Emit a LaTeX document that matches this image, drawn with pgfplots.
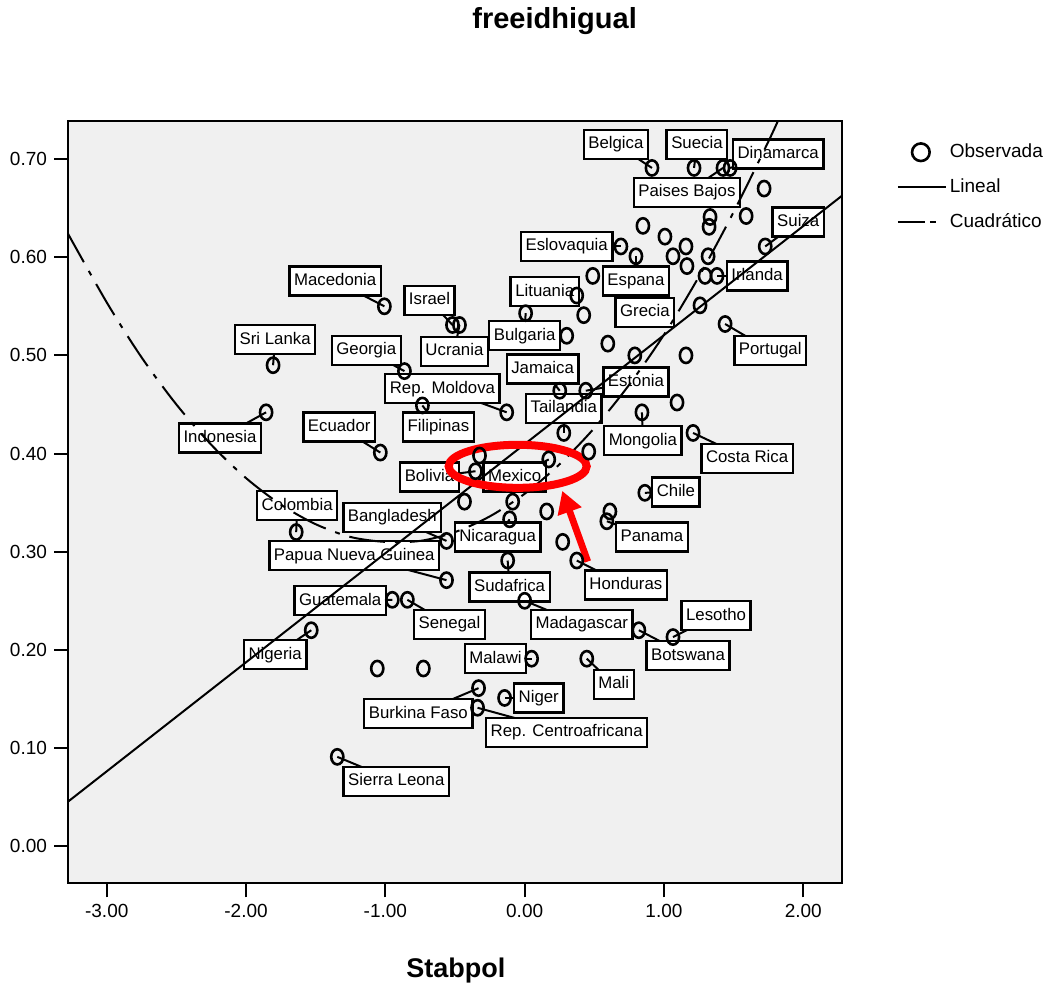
\documentclass[border=0pt]{standalone}
\usepackage{fontspec}
\setmainfont{Liberation Sans}
\usepackage{pgfplots}
\pgfplotsset{compat=1.18}
\usetikzlibrary{arrows.meta}
\definecolor{plotbg}{HTML}{F0F0F0}
\tikzset{
  lbl/.style={draw, line width=1.2pt, fill=white, inner xsep=2.3pt, inner ysep=3.2pt,
    text height=6.3pt, text depth=1.8pt, font=\fontsize{8.4}{10}\selectfont},
  ldr/.style={line width=1pt},
}

% observed points (Stabpol, freeidhigual)
\pgfplotstableread{
x y
-1.007 0.550
-0.518 0.531
-0.468 0.531
-1.806 0.490
-0.863 0.484
-0.734 0.449
-1.856 0.442
-1.036 0.401
-1.640 0.320
-0.561 0.311
-0.561 0.271
-0.950 0.251
-0.842 0.251
-1.532 0.220
-1.058 0.181
-0.727 0.181
-1.345 0.091
-0.129 0.442
0.281 0.421
0.460 0.402
-0.324 0.398
0.173 0.394
-0.353 0.382
-0.432 0.351
-0.086 0.351
0.158 0.341
-0.108 0.333
0.273 0.310
-0.122 0.291
0.374 0.291
0.612 0.341
0.590 0.331
0.863 0.360
0.000 0.250
0.820 0.220
1.065 0.213
0.050 0.191
0.446 0.191
-0.331 0.161
-0.144 0.151
-0.338 0.141
0.914 0.691
1.216 0.691
1.424 0.691
1.475 0.691
1.719 0.670
1.331 0.641
1.590 0.642
1.324 0.631
0.849 0.632
1.007 0.621
1.158 0.611
0.691 0.611
0.799 0.601
1.065 0.601
1.317 0.601
1.165 0.591
1.727 0.611
0.489 0.581
1.295 0.581
1.381 0.581
0.374 0.561
0.424 0.541
0.007 0.543
0.302 0.520
1.259 0.551
1.439 0.532
0.597 0.512
0.791 0.500
1.158 0.500
0.252 0.464
0.439 0.464
0.842 0.442
1.094 0.452
1.209 0.421
}\obs

% fitted curves
\pgfplotstableread{
x y
-3.29 0.044
2.29 0.664
}\lineal
\pgfplotstableread{
x y
-3.29 0.627
-3.00 0.554
-2.75 0.498
-2.50 0.450
-2.25 0.409
-2.00 0.375
-1.75 0.348
-1.50 0.328
-1.25 0.315
-1.00 0.310
-0.75 0.311
-0.50 0.320
-0.25 0.336
0.00 0.359
0.25 0.389
0.50 0.426
0.75 0.470
1.00 0.521
1.25 0.580
1.50 0.646
1.75 0.718
1.85 0.749
}\cuad

\begin{document}
\begin{tikzpicture}
\begin{axis}[
  name=ax,
  width=387pt, height=381pt, scale only axis,
  xmin=-3.278, xmax=2.280, ymin=-0.0378, ymax=0.7388,
  axis background/.style={fill=plotbg},
  axis line style={line width=1pt},
  tick align=outside, major tick length=7pt,
  tick style={line width=1pt, black},
  xtick pos=bottom, ytick pos=left,
  xtick={-3,-2,-1,0,1,2},
  ytick={0,0.1,0.2,0.3,0.4,0.5,0.6,0.7},
  /pgf/number format/.cd, fixed, fixed zerofill, precision=2, assume math mode=true,
  /pgfplots/.cd,
  ticklabel style={font=\fontsize{9.5}{11}\selectfont},
  title={freeidhigual},
  title style={at={(axis description cs:0.6285,1.106)}, anchor=base,
    font=\bfseries\fontsize{14.5}{17}\selectfont},
  xlabel={Stabpol},
  xlabel style={at={(axis description cs:0.501,-0.1234)}, anchor=base,
    font=\bfseries\fontsize{13.5}{16}\selectfont},
  legend style={draw=none, fill=none, at={(axis description cs:1.07,0.9745)},
    anchor=north west, font=\fontsize{9.5}{11}\selectfont,
    row sep=6pt, inner sep=0pt, nodes={inner sep=1.5pt}},
  legend cell align=left,
]
% leader lines from labels to points
\draw[ldr] (axis cs:0.655,0.715) -- (axis cs:0.914,0.691);
\draw[ldr] (axis cs:1.237,0.715) -- (axis cs:1.216,0.691);
\draw[ldr] (axis cs:1.820,0.705) -- (axis cs:1.475,0.691);
\draw[ldr] (axis cs:1.165,0.666) -- (axis cs:1.424,0.691);
\draw[ldr] (axis cs:1.964,0.636) -- (axis cs:1.727,0.611);
\draw[ldr] (axis cs:0.302,0.611) -- (axis cs:0.691,0.611);
\draw[ldr] (axis cs:-1.360,0.576) -- (axis cs:-1.007,0.550);
\draw[ldr] (axis cs:-0.683,0.556) -- (axis cs:-0.518,0.531);
\draw[ldr] (axis cs:0.144,0.565) -- (axis cs:0.374,0.561);
\draw[ldr] (axis cs:0.799,0.576) -- (axis cs:0.799,0.601);
\draw[ldr] (axis cs:1.669,0.581) -- (axis cs:1.381,0.581);
\draw[ldr] (axis cs:0.000,0.520) -- (axis cs:0.007,0.543);
\draw[ldr] (axis cs:-0.504,0.504) -- (axis cs:-0.468,0.531);
\draw[ldr] (axis cs:-1.791,0.516) -- (axis cs:-1.806,0.490);
\draw[ldr] (axis cs:-1.137,0.505) -- (axis cs:-0.863,0.484);
\draw[ldr] (axis cs:1.763,0.505) -- (axis cs:1.439,0.532);
\draw[ldr] (axis cs:0.129,0.486) -- (axis cs:0.252,0.464);
\draw[ldr] (axis cs:-0.590,0.466) -- (axis cs:-0.129,0.442);
\draw[ldr] (axis cs:0.799,0.473) -- (axis cs:0.439,0.464);
\draw[ldr] (axis cs:0.281,0.446) -- (axis cs:0.281,0.421);
\draw[ldr] (axis cs:-2.187,0.416) -- (axis cs:-1.856,0.442);
\draw[ldr] (axis cs:-1.331,0.427) -- (axis cs:-1.036,0.401);
\draw[ldr] (axis cs:-0.619,0.427) -- (axis cs:-0.734,0.449);
\draw[ldr] (axis cs:0.849,0.413) -- (axis cs:0.842,0.442);
\draw[ldr] (axis cs:1.597,0.395) -- (axis cs:1.209,0.421);
\draw[ldr] (axis cs:-0.683,0.376) -- (axis cs:-0.353,0.382);
\draw[ldr] (axis cs:-0.072,0.376) -- (axis cs:0.173,0.394);
\draw[ldr] (axis cs:1.086,0.361) -- (axis cs:0.863,0.360);
\draw[ldr] (axis cs:-1.633,0.347) -- (axis cs:-1.640,0.320);
\draw[ldr] (axis cs:-0.950,0.335) -- (axis cs:-0.561,0.311);
\draw[ldr] (axis cs:-0.194,0.315) -- (axis cs:-0.108,0.333);
\draw[ldr] (axis cs:0.914,0.315) -- (axis cs:0.590,0.331);
\draw[ldr] (axis cs:-1.223,0.296) -- (axis cs:-0.561,0.271);
\draw[ldr] (axis cs:-0.108,0.264) -- (axis cs:-0.122,0.291);
\draw[ldr] (axis cs:0.727,0.266) -- (axis cs:0.374,0.291);
\draw[ldr] (axis cs:-1.324,0.250) -- (axis cs:-0.950,0.251);
\draw[ldr] (axis cs:1.374,0.235) -- (axis cs:1.065,0.213);
\draw[ldr] (axis cs:-0.540,0.226) -- (axis cs:-0.842,0.251);
\draw[ldr] (axis cs:0.410,0.226) -- (axis cs:0.000,0.250);
\draw[ldr] (axis cs:-1.791,0.195) -- (axis cs:-1.532,0.220);
\draw[ldr] (axis cs:1.173,0.194) -- (axis cs:0.820,0.220);
\draw[ldr] (axis cs:-0.209,0.191) -- (axis cs:0.050,0.191);
\draw[ldr] (axis cs:0.640,0.165) -- (axis cs:0.446,0.191);
\draw[ldr] (axis cs:0.101,0.151) -- (axis cs:-0.144,0.151);
\draw[ldr] (axis cs:-0.763,0.135) -- (axis cs:-0.331,0.161);
\draw[ldr] (axis cs:0.302,0.116) -- (axis cs:-0.338,0.141);
\draw[ldr] (axis cs:-0.921,0.066) -- (axis cs:-1.345,0.091);
% label boxes
\node[lbl] at (axis cs:0.655,0.715) {Belgica};
\node[lbl] at (axis cs:1.237,0.715) {Suecia};
\node[lbl] at (axis cs:1.820,0.705) {Dinamarca};
\node[lbl] at (axis cs:1.165,0.666) {Paises Bajos};
\node[lbl] at (axis cs:1.964,0.636) {Suiza};
\node[lbl] at (axis cs:0.302,0.611) {Eslovaquia};
\node[lbl] at (axis cs:-1.360,0.576) {Macedonia};
\node[lbl] at (axis cs:-0.683,0.556) {Israel};
\node[lbl] at (axis cs:0.144,0.565) {Lituania};
\node[lbl] at (axis cs:0.799,0.576) {Espana};
\node[lbl] at (axis cs:1.669,0.581) {Irlanda};
\node[lbl] at (axis cs:0.863,0.544) {Grecia};
\node[lbl] at (axis cs:0.000,0.520) {Bulgaria};
\node[lbl] at (axis cs:-0.504,0.504) {Ucrania};
\node[lbl] at (axis cs:-1.791,0.516) {Sri Lanka};
\node[lbl] at (axis cs:-1.137,0.505) {Georgia};
\node[lbl] at (axis cs:1.763,0.505) {Portugal};
\node[lbl] at (axis cs:0.129,0.486) {Jamaica};
\node[lbl] at (axis cs:-0.590,0.466) {Rep. Moldova};
\node[lbl] at (axis cs:0.799,0.473) {Estonia};
\node[lbl] at (axis cs:0.281,0.446) {Tailandia};
\node[lbl] at (axis cs:-2.187,0.416) {Indonesia};
\node[lbl] at (axis cs:-1.331,0.427) {Ecuador};
\node[lbl] at (axis cs:-0.619,0.427) {Filipinas};
\node[lbl] at (axis cs:0.849,0.413) {Mongolia};
\node[lbl] at (axis cs:1.597,0.395) {Costa Rica};
\node[lbl] at (axis cs:-0.683,0.376) {Bolivia};
\node[lbl] at (axis cs:-0.072,0.376) {Mexico};
\node[lbl] at (axis cs:1.086,0.361) {Chile};
\node[lbl] at (axis cs:-1.633,0.347) {Colombia};
\node[lbl] at (axis cs:-0.950,0.335) {Bangladesh};
\node[lbl] at (axis cs:-0.194,0.315) {Nicaragua};
\node[lbl] at (axis cs:0.914,0.315) {Panama};
\node[lbl] at (axis cs:-1.223,0.296) {Papua Nueva Guinea};
\node[lbl] at (axis cs:-0.108,0.264) {Sudafrica};
\node[lbl] at (axis cs:0.727,0.266) {Honduras};
\node[lbl] at (axis cs:-1.324,0.250) {Guatemala};
\node[lbl] at (axis cs:1.374,0.235) {Lesotho};
\node[lbl] at (axis cs:-0.540,0.226) {Senegal};
\node[lbl] at (axis cs:0.410,0.226) {Madagascar};
\node[lbl] at (axis cs:-1.791,0.195) {Nigeria};
\node[lbl] at (axis cs:1.173,0.194) {Botswana};
\node[lbl] at (axis cs:-0.209,0.191) {Malawi};
\node[lbl] at (axis cs:0.640,0.165) {Mali};
\node[lbl] at (axis cs:0.101,0.151) {Niger};
\node[lbl] at (axis cs:-0.763,0.135) {Burkina Faso};
\node[lbl] at (axis cs:0.302,0.116) {Rep. Centroafricana};
\node[lbl] at (axis cs:-0.921,0.066) {Sierra Leona};

\addplot[only marks, mark=o, mark size=3.8pt,
  mark options={line width=1.3pt, xscale=0.8},
  legend image code/.code={\draw[line width=1.3pt] (11.5pt,0pt) circle (4.4pt);}]
  table {\obs};
\addlegendentry{Observada}
\addplot[line width=1pt, no marks,
  legend image code/.code={\draw[line width=1pt] (0pt,0pt) -- (24pt,0pt);}]
  table {\lineal};
\addlegendentry{Lineal}
\addplot[line width=1pt, no marks, smooth, dash pattern=on 18pt off 5pt on 2.5pt off 5pt,
  legend image code/.code={\draw[line width=1pt] (0pt,0pt) -- (13.5pt,0pt);
    \draw[line width=1pt] (16pt,0pt) -- (19pt,0pt);}]
  table {\cuad};
\addlegendentry{Cuadrático}

% red highlight
\draw[red, line width=4pt] (axis cs:-0.050,0.387) ellipse [x radius=34.5pt, y radius=10.75pt];
\draw[red, line width=3.4pt, -{Triangle[length=11pt, width=12pt]}]
  (axis cs:0.453,0.290) -- (axis cs:0.270,0.362);
\end{axis}
\pgfresetboundingbox
\path[use as bounding box] ([shift={(-34pt,-50pt)}]ax.south west)
  rectangle ([shift={(102.35pt,60.5pt)}]ax.north east);
\end{tikzpicture}
\end{document}
